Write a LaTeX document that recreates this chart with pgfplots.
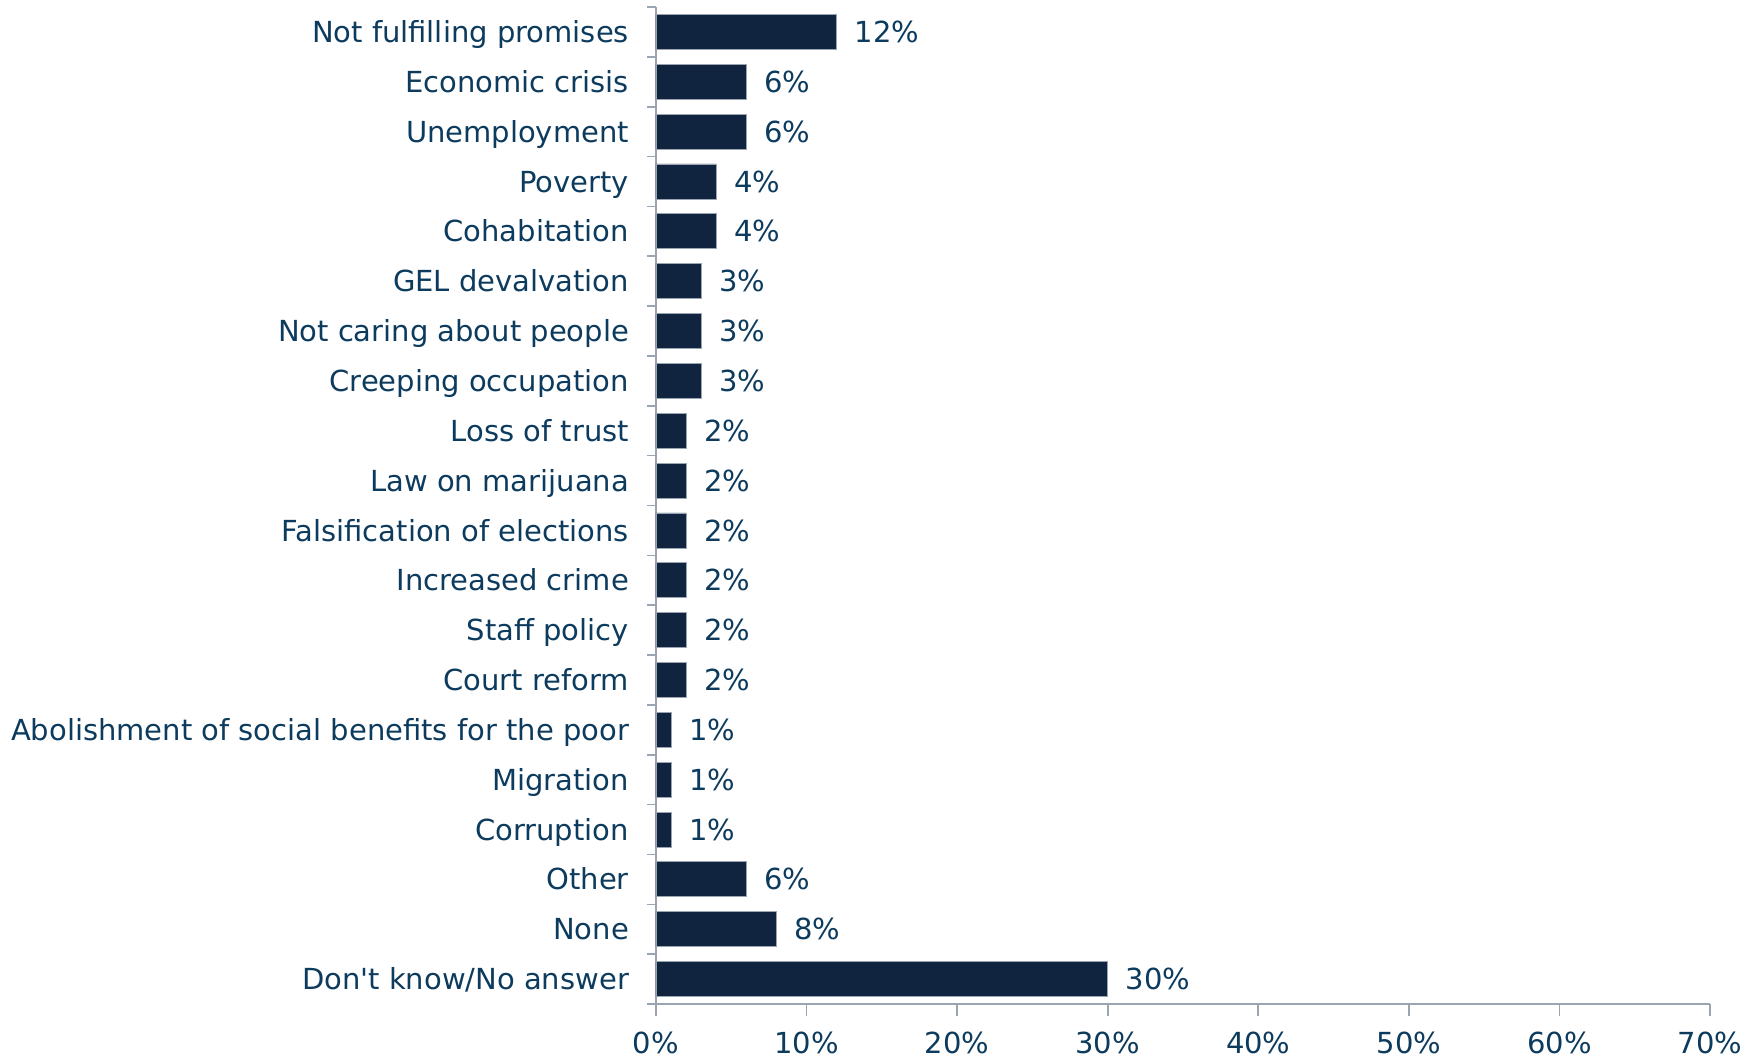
\documentclass[border=0pt]{standalone}
\usepackage{pgfplots}
\pgfplotsset{compat=1.18}
\usepackage{fontspec}
\setmainfont{DejaVu Sans}
\definecolor{txt}{HTML}{0D3B5E}
\definecolor{barc}{HTML}{10233F}
\definecolor{axc}{HTML}{9AA5B1}
\begin{document}
\begin{tikzpicture}
\begin{axis}[
  scale only axis,
  width=527pt, height=498.5pt,
  xbar, bar width=17.5pt,
  y dir=reverse,
  xmin=0, xmax=70,
  ymin=-0.5, ymax=19.5,
  xtick={0,10,...,70},
  xticklabel={\pgfmathprintnumber{\tick}\%},
  /pgf/number format/assume math mode=true,
  ytick={0,...,19},
  yticklabels={Not fulfilling promises,Economic crisis,Unemployment,Poverty,Cohabitation,GEL devalvation,Not caring about people,Creeping occupation,Loss of trust,Law on marijuana,Falsification of elections,Increased crime,Staff policy,Court reform,Abolishment of social benefits for the poor,Migration,Corruption,Other,None,Don\textquotesingle t know/No answer},
  minor ytick={-0.5,0.5,...,19.5},
  ytick style={draw=none},
  minor y tick style={draw=axc, line width=0.8pt},
  x tick style={draw=axc, line width=0.8pt},
  tick align=outside,
  major tick length=6pt,
  minor tick length=4.5pt,
  axis x line*=bottom,
  axis y line*=left,
  axis line style={draw=axc, line width=0.8pt},
  y axis line style={-},
  x axis line style={-},
  ticklabel style={font=\fontsize{14.5}{17}\selectfont, text=txt},
  yticklabel style={anchor=base east, xshift=-4pt, yshift=-5.3pt},
  xticklabel style={yshift=-4.5pt},
  nodes near coords={\pgfmathprintnumber{\pgfplotspointmeta}\%},
  point meta=x,
  every node near coord/.append style={font=\fontsize{14.5}{17}\selectfont, text=txt, anchor=base west, xshift=5.5pt, yshift=-5.3pt},
  clip=false,
]
\addplot[fill=barc, draw=axc, line width=0.4pt] coordinates {
(12,0) (6,1) (6,2) (4,3) (4,4) (3,5) (3,6) (3,7) (2,8) (2,9) (2,10) (2,11) (2,12) (2,13) (1,14) (1,15) (1,16) (6,17) (8,18) (30,19)
};
\end{axis}
\path[draw=none] ([xshift=-328pt,yshift=-28pt]current axis.south west) rectangle ([xshift=23pt,yshift=3.5pt]current axis.north east);
\end{tikzpicture}
\end{document}
